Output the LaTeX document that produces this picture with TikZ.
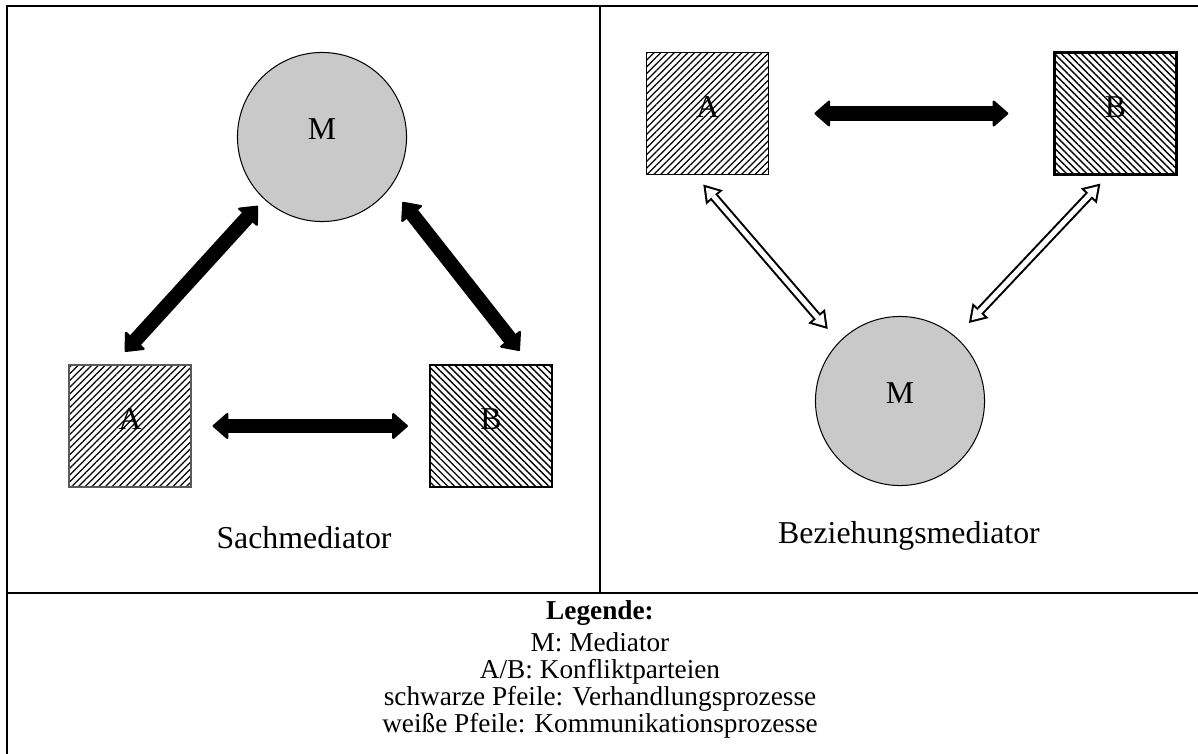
\documentclass[tikz,border=0pt]{standalone}
\usepackage{fontspec}
\setmainfont{Liberation Serif}
\usetikzlibrary{arrows.meta,patterns.meta}

\tikzset{
    frame/.style={line width=0.9pt},
    party/.style={draw, line width=0.8pt, minimum size=53.7pt, inner sep=0pt,
        font=\fontsize{14}{16}\selectfont, text depth=6pt},
    hatchA/.style={pattern={Lines[angle=45,distance=2.1pt,line width=0.6pt]}},
    hatchB/.style={pattern={Lines[angle=-45,distance=2.1pt,line width=0.6pt]}},
    mediator/.style={circle, draw, line width=0.45pt, fill=black!21, minimum size=74.4pt,
        inner sep=0pt, font=\fontsize{14}{16}\selectfont, text depth=6.7pt},
    negotiation/.style={line width=6.4pt, <->,
        >={Triangle[width=12.4pt,length=7.2pt,line width=1pt,round]}},
    commouter/.style={line width=4pt, <->,
        >={Triangle[width=9.7pt,length=7.5pt,line width=0pt]}},
    comminner/.style={white, line width=2.2pt, <->,
        >={Triangle[width=6.39pt,length=4.94pt,line width=0pt]}},
    caption/.style={anchor=base, font=\fontsize{14}{16}\selectfont},
    legend/.style={anchor=base, font=\fontsize{12}{14}\selectfont}
}

\begin{document}
\begin{tikzpicture}[x=0.44pt, y=-0.44pt]
    \useasboundingbox (0,0) rectangle (1198,754);

    % table lines
    \draw [frame] (1198,6) -- (7,6) -- (7,754);
    \draw [frame] (600,6) -- (600,593);
    \draw [frame] (7,593) -- (1198,593);

    % Sachmediator
    \node (sachM) [mediator] at (322,137) {M};
    \node (sachA) [party, hatchA, draw=black!65] at (130,426) {A};
    \node (sachB) [party, hatchB, line width=1pt] at (491,426) {B};

    \draw [negotiation, shorten <=9.2pt, shorten >=9.2pt] (sachA.east) -- (sachB.west);
    \draw [negotiation, shorten <=4pt, shorten >=7.5pt] (sachM.-133) -- (sachA.105);
    \draw [negotiation, shorten <=8.4pt, shorten >=7.3pt] (sachM.-36) -- (sachB.58);

    \node (sachText) [caption] at (304,548) {Sachmediator};

    % Beziehungsmediator
    \node (bezM) [mediator] at (900,401) {M};
    \node (bezA) [party, hatchA] at (707.5,113.5) {A};
    \node (bezB) [party, hatchB, line width=1pt] at (1115.5,113.5) {B};

    \draw [negotiation, shorten <=19.8pt, shorten >=19.8pt] (bezA.east) -- (bezB.west);

    \draw [commouter, shorten <=5.3pt, shorten >=7.5pt] (bezA.-101) -- (bezM.136);
    \draw [comminner, shorten <=6.96pt, shorten >=9.16pt] (bezA.-101) -- (bezM.136);
    \draw [commouter, shorten <=4.8pt, shorten >=8.4pt] (bezB.-97) -- (bezM.49);
    \draw [comminner, shorten <=6.46pt, shorten >=10.06pt] (bezB.-97) -- (bezM.49);

    \node (bezText) [caption] at (909,543) {Beziehungsmediator};

    % Legende
    \node (leg0) [legend] at (600,619) {\textbf{Legende:}};
    \node (leg1) [legend] at (600,651) {M: Mediator};
    \node (leg2) [legend] at (600,678) {A/B: Konfliktparteien};
    \node (leg3) [legend] at (600,705) {schwarze Pfeile: Verhandlungsprozesse};
    \node (leg4) [legend] at (600,732) {weiße Pfeile: Kommunikationsprozesse};
\end{tikzpicture}
\end{document}
